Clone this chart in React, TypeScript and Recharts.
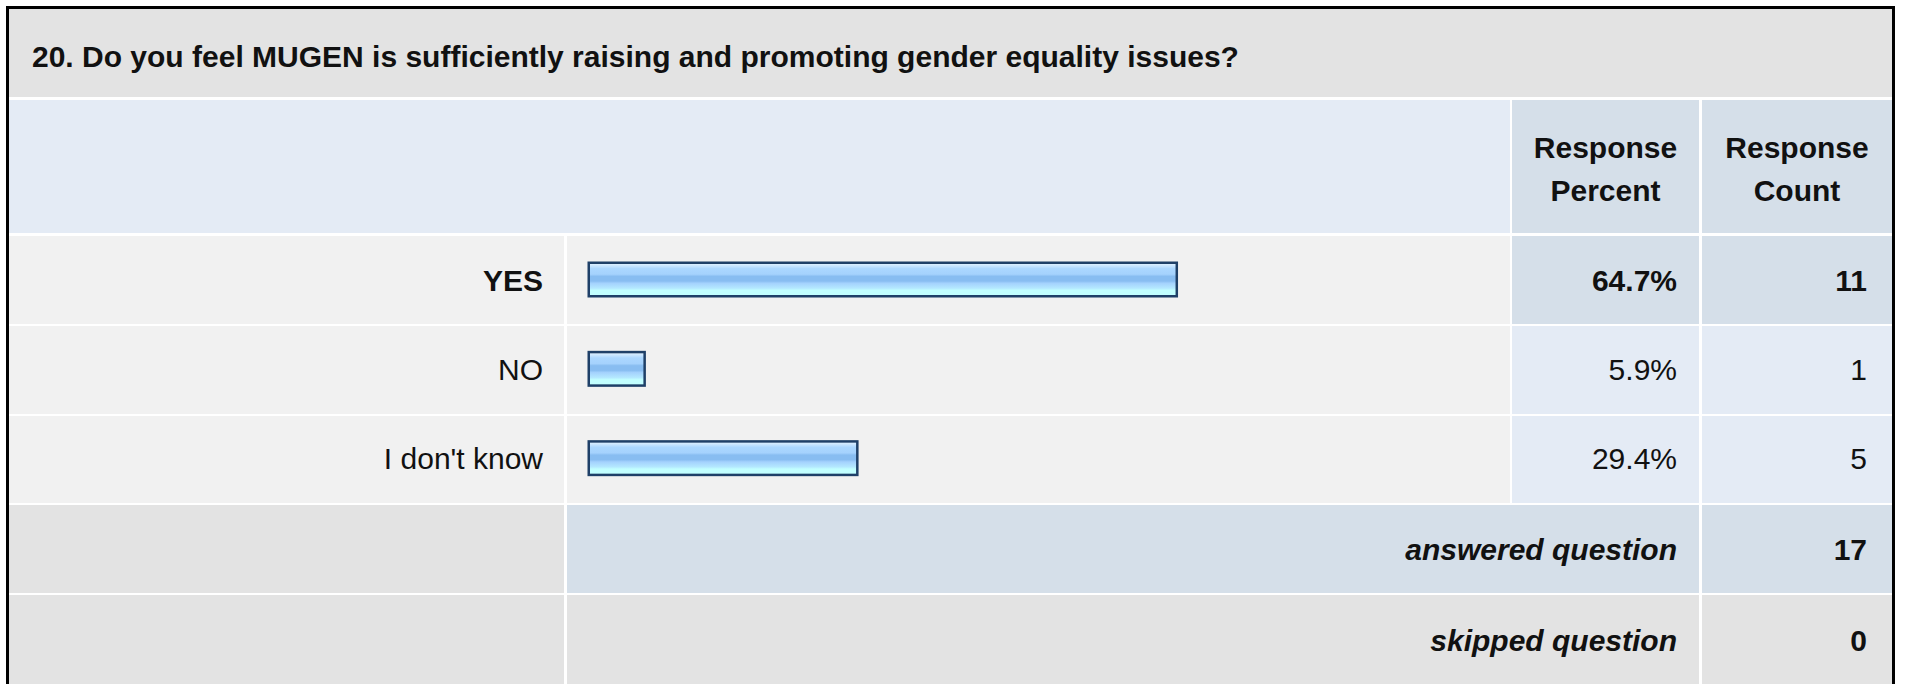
import React from "react";
import { BarChart, Bar, XAxis, YAxis, LabelList } from "recharts";

const question =
  "20. Do you feel MUGEN is sufficiently raising and promoting gender equality issues?";
const categories = ["YES", "NO", "I don't know"];
const responsePercent = [64.7, 5.9, 29.4];
const responseCount = [11, 1, 5];
const headerPercent = ["Response", "Percent"];
const headerCount = ["Response", "Count"];
const summaryLabels = ["answered question", "skipped question"];
const summaryValues = [17, 0];

const data = categories.map((c, i) => ({
  label: c,
  pct: responsePercent[i],
  count: responseCount[i],
}));
const maxIdx = responsePercent.indexOf(Math.max(...responsePercent));

const FONT = '"Liberation Sans", Arial, Helvetica, sans-serif';
const TXT = "#111";
const GRAY = "#e3e3e3";
const LIGHTBLUE = "#e4ebf5";
const MIDBLUE = "#d5dfe9";
const ROWBG = "#f1f1f1";

// table geometry (layout only)
const X_LABEL = [9, 564];
const X_BAR = [567, 1510];
const X_PCT = [1512, 1699];
const X_CNT = [1702, 1892];
const ROWS_Y = [
  [236, 324],
  [326, 414],
  [416, 503],
];
const SUM_Y = [
  [505, 593],
  [595, 700],
];
const SUM_BASE = [560, 651];

const BarShape = (props: any) => {
  const { x, y, width, height } = props;
  const b = 2.5;
  return (
    <g>
      <rect
        x={x - b}
        y={y - b}
        width={width + 2 * b}
        height={height + 2 * b}
        fill="#1f4068"
      />
      <rect x={x} y={y} width={width} height={height} fill="url(#barGrad)" />
    </g>
  );
};

const YTick = (props: any) => {
  const { y, payload } = props;
  const i = categories.indexOf(payload.value);
  return (
    <text
      x={543}
      y={y + 11}
      textAnchor="end"
      fontFamily={FONT}
      fontSize={30}
      fontWeight={i === maxIdx ? "bold" : "normal"}
      fill={TXT}
    >
      {payload.value}
    </text>
  );
};

const makeLabel = (xRight: number, fmt: (v: any) => string, arr: number[]) => (p: any) => {
  const vb = p.viewBox || {};
  const y = p.y ?? vb.y;
  const h = p.height ?? vb.height;
  const i = typeof p.index === "number" ? p.index : arr.indexOf(p.value);
  return (
    <text
      x={xRight}
      y={y + h / 2 + 11}
      textAnchor="end"
      fontFamily={FONT}
      fontSize={30}
      fontWeight={i === maxIdx ? "bold" : "normal"}
      fill={TXT}
    >
      {fmt(p.value)}
    </text>
  );
};

export default function App() {
  return (
    <div
      style={{
        position: "absolute",
        left: 0,
        top: 0,
        width: 1907,
        height: 684,
        overflow: "hidden",
        background: "#fff",
      }}
    >
      <svg
        width={1907}
        height={684}
        style={{ position: "absolute", left: 0, top: 0 }}
      >
        <defs>
          <linearGradient id="barGrad" x1="0" y1="0" x2="0" y2="1">
            <stop offset="0" stopColor="#dcefff" />
            <stop offset="0.08" stopColor="#c2e2ff" />
            <stop offset="0.15" stopColor="#abd7ff" />
            <stop offset="0.33" stopColor="#a5d2fd" />
            <stop offset="0.4" stopColor="#88bdf1" />
            <stop offset="0.55" stopColor="#88bdf1" />
            <stop offset="0.62" stopColor="#a4d2fd" />
            <stop offset="0.78" stopColor="#b4e8ff" />
            <stop offset="0.85" stopColor="#c2ffff" />
            <stop offset="1" stopColor="#c2ffff" />
          </linearGradient>
        </defs>
        {/* outer frame */}
        <rect x={6} y={6} width={1889} height={700} fill="#000" />
        <rect x={9} y={9} width={1883} height={700} fill="#fff" />
        {/* title row */}
        <rect x={9} y={9} width={1883} height={88} fill={GRAY} />
        <text x={32} y={67} fontFamily={FONT} fontSize={30} fontWeight="bold" fill={TXT}>
          {question}
        </text>
        {/* header row */}
        <rect x={X_LABEL[0]} y={100} width={X_BAR[1] - X_LABEL[0]} height={133} fill={LIGHTBLUE} />
        <rect x={X_PCT[0]} y={100} width={X_PCT[1] - X_PCT[0]} height={133} fill={MIDBLUE} />
        <rect x={X_CNT[0]} y={100} width={X_CNT[1] - X_CNT[0]} height={133} fill={MIDBLUE} />
        {headerPercent.map((t, i) => (
          <text
            key={"hp" + i}
            x={(X_PCT[0] + X_PCT[1]) / 2}
            y={158 + i * 43}
            textAnchor="middle"
            fontFamily={FONT}
            fontSize={30}
            fontWeight="bold"
            fill={TXT}
          >
            {t}
          </text>
        ))}
        {headerCount.map((t, i) => (
          <text
            key={"hc" + i}
            x={(X_CNT[0] + X_CNT[1]) / 2}
            y={158 + i * 43}
            textAnchor="middle"
            fontFamily={FONT}
            fontSize={30}
            fontWeight="bold"
            fill={TXT}
          >
            {t}
          </text>
        ))}
        {/* data rows backgrounds */}
        {ROWS_Y.map(([y0, y1], i) => {
          const hl = i === maxIdx ? MIDBLUE : LIGHTBLUE;
          return (
            <g key={"r" + i}>
              <rect x={X_LABEL[0]} y={y0} width={X_LABEL[1] - X_LABEL[0]} height={y1 - y0} fill={ROWBG} />
              <rect x={X_BAR[0]} y={y0} width={X_BAR[1] - X_BAR[0]} height={y1 - y0} fill={ROWBG} />
              <rect x={X_PCT[0]} y={y0} width={X_PCT[1] - X_PCT[0]} height={y1 - y0} fill={hl} />
              <rect x={X_CNT[0]} y={y0} width={X_CNT[1] - X_CNT[0]} height={y1 - y0} fill={hl} />
            </g>
          );
        })}
        {/* summary rows */}
        {SUM_Y.map(([y0, y1], i) => {
          const bg = i === 0 ? MIDBLUE : GRAY;
          const base = SUM_BASE[i];
          return (
            <g key={"s" + i}>
              <rect x={X_LABEL[0]} y={y0} width={X_LABEL[1] - X_LABEL[0]} height={y1 - y0} fill={GRAY} />
              <rect x={X_BAR[0]} y={y0} width={X_PCT[1] - X_BAR[0]} height={y1 - y0} fill={bg} />
              <rect x={X_CNT[0]} y={y0} width={X_CNT[1] - X_CNT[0]} height={y1 - y0} fill={bg} />
              <text
                x={1677}
                y={base}
                textAnchor="end"
                fontFamily={FONT}
                fontSize={30}
                fontWeight="bold"
                fontStyle="italic"
                fill={TXT}
              >
                {summaryLabels[i]}
              </text>
              <text
                x={1867}
                y={base}
                textAnchor="end"
                fontFamily={FONT}
                fontSize={30}
                fontWeight="bold"
                fill={TXT}
              >
                {summaryValues[i]}
              </text>
            </g>
          );
        })}
      </svg>
      <div style={{ position: "absolute", left: 0, top: 235 }}>
        <BarChart
          width={1907}
          height={268}
          data={data}
          layout="vertical"
          margin={{ top: 0, right: 412, bottom: 0, left: 0 }}
        >
          <XAxis type="number" domain={[0, 100]} hide />
          <YAxis
            type="category"
            dataKey="label"
            width={590}
            axisLine={false}
            tickLine={false}
            tick={<YTick />}
            interval={0}
          />
          <Bar
            dataKey="pct"
            barSize={31}
            isAnimationActive={false}
            shape={<BarShape />}
          >
            <LabelList
              dataKey="pct"
              content={makeLabel(1677, (v) => `${Number(v).toFixed(1)}%`, responsePercent)}
            />
            <LabelList
              dataKey="count"
              content={makeLabel(1867, (v) => `${v}`, responseCount)}
            />
          </Bar>
        </BarChart>
      </div>
    </div>
  );
}
